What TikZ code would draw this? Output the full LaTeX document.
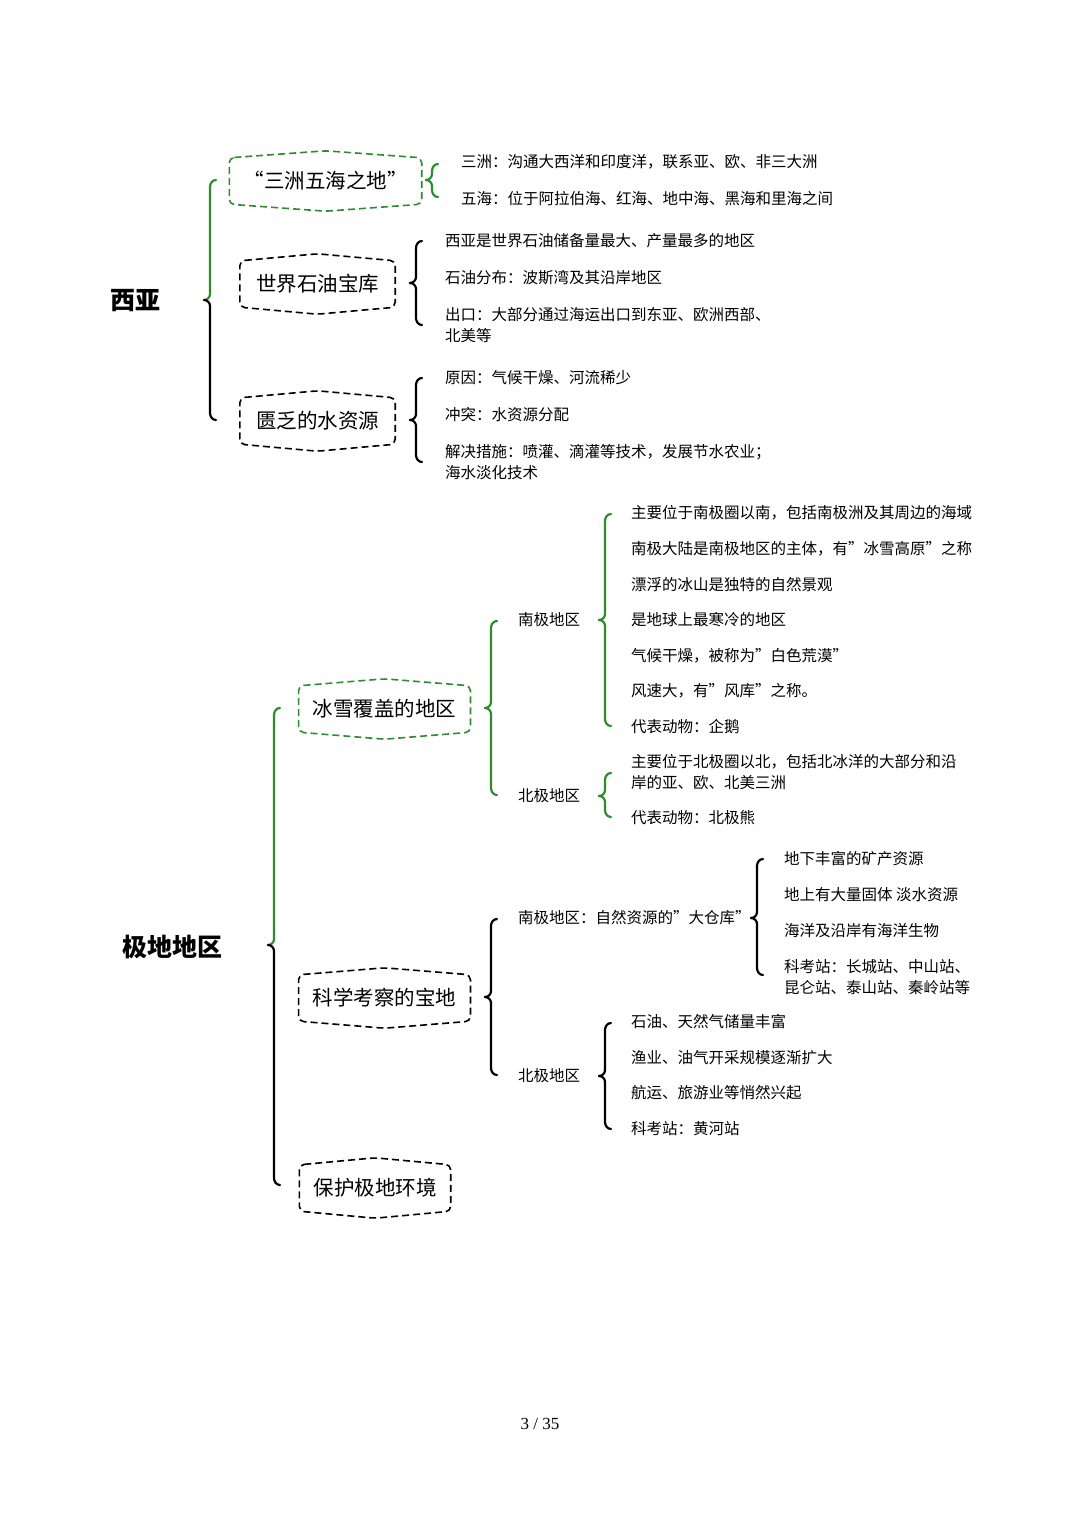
\documentclass[tikz,border=0pt]{standalone}
\usepackage{fontspec}
\setmainfont{Noto Sans CJK SC}
\newfontfamily\pagefont{Liberation Serif}
\definecolor{gr}{HTML}{2E8B2E}
\newcommand\brc[6]{%
 \draw[#5,line width=2.2,line cap=round] ({#1+6},#2) to[out=180,in=90] (#1,{#2+7}) -- (#1,{#3-6}) to[out=-90,in=0] ({#1-6},#3);
 \draw[#6,line width=2.2,line cap=round] ({#1-6},#3) to[out=0,in=90] (#1,{#3+6}) -- (#1,{#4-7}) to[out=-90,in=180] ({#1+6},#4);}
\newcommand\hexb[2]{%
 \draw[#2,dashed,line width=1.6,dash pattern=on 7pt off 4pt,rounded corners=5pt]
 (#1.north west) -- ([yshift=7pt]#1.north) -- (#1.north east) -- (#1.south east) -- ([yshift=-7pt]#1.south) -- (#1.south west) -- cycle;}
\begin{document}
\begin{tikzpicture}[x=1pt,y=-1pt,
 txt/.style={anchor=west,align=left,font=\fontsize{15.5}{21}\selectfont,inner sep=0},
 boxt/.style={font=\fontsize{20.5}{24}\selectfont,minimum height=46,inner xsep=14},
 ttl/.style={font=\fontsize{25}{30}\selectfont\bfseries}]
\useasboundingbox (0,0) rectangle (1080,1527);
\fill[white] (0,0) rectangle (1080,1527);
% titles
\node[ttl] (xy) at (135,301) {西亚};
\node[ttl] (jd) at (172,947) {极地地区};
% boxes
\node[boxt,minimum width=171] (b1) at (325.5,181) {“三洲五海之地”}; \hexb{b1}{gr}
\node[boxt,minimum width=155] (b2) at (317.5,284) {世界石油宝库}; \hexb{b2}{black}
\node[boxt,minimum width=155] (b3) at (317.5,421) {匮乏的水资源}; \hexb{b3}{black}
\node[boxt,minimum width=169] (b4) at (384.5,709) {冰雪覆盖的地区}; \hexb{b4}{gr}
\node[boxt,minimum width=169] (b5) at (384.5,998) {科学考察的宝地}; \hexb{b5}{black}
\node[boxt,minimum width=150] (b6) at (375,1188) {保护极地环境}; \hexb{b6}{black}
% main braces
\brc{210}{180}{300}{420}{gr}{black}
\brc{274}{708}{945}{1185}{gr}{black}
% 西亚 details
\brc{432}{164}{180}{197}{gr}{gr}
\node[txt] (t1) at (461,162) {三洲：沟通大西洋和印度洋，联系亚、欧、非三大洲};
\node[txt] (t2) at (461,199) {五海：位于阿拉伯海、红海、地中海、黑海和里海之间};
\brc{416}{241}{283}{325}{black}{black}
\node[txt] (t3) at (445,241) {西亚是世界石油储备量最大、产量最多的地区};
\node[txt] (t4) at (445,278) {石油分布：波斯湾及其沿岸地区};
\node[txt] (t5) at (445,325) {出口：大部分通过海运出口到东亚、欧洲西部、\\北美等};
\brc{416}{378}{420}{462}{black}{black}
\node[txt] (t6) at (445,378) {原因：气候干燥、河流稀少};
\node[txt] (t7) at (445,415) {冲突：水资源分配};
\node[txt] (t8) at (445,462) {解决措施：喷灌、滴灌等技术，发展节水农业；\\海水淡化技术};
% 冰雪
\brc{491}{621}{708}{795}{gr}{gr}
\node[txt] (n1) at (518,620) {南极地区};
\node[txt] (n2) at (518,796) {北极地区};
\brc{605}{514}{620}{726}{gr}{gr}
\node[txt] (a1) at (631,513) {主要位于南极圈以南，包括南极洲及其周边的海域};
\node[txt] (a2) at (631,549) {南极大陆是南极地区的主体，有"冰雪高原"之称};
\node[txt] (a3) at (631,585) {漂浮的冰山是独特的自然景观};
\node[txt] (a4) at (631,620) {是地球上最寒冷的地区};
\node[txt] (a5) at (631,656) {气候干燥，被称为"白色荒漠"};
\node[txt] (a6) at (631,691) {风速大，有"风库"之称。};
\node[txt] (a7) at (631,727) {代表动物：企鹅};
\brc{605}{773}{796}{817}{gr}{gr}
\node[txt] (c1) at (631,772) {主要位于北极圈以北，包括北冰洋的大部分和沿\\岸的亚、欧、北美三洲};
\node[txt] (c2) at (631,818) {代表动物：北极熊};
% 科学
\brc{491}{919}{997}{1075}{black}{black}
\node[txt] (n3) at (518,918) {南极地区：自然资源的"大仓库"};
\node[txt] (n4) at (518,1076) {北极地区};
\brc{757}{859}{918}{975}{black}{black}
\node[txt] (d1) at (784,859) {地下丰富的矿产资源};
\node[txt] (d2) at (784,895) {地上有大量固体 淡水资源};
\node[txt] (d3) at (784,931) {海洋及沿岸有海洋生物};
\node[txt] (d4) at (784,977) {科考站：长城站、中山站、\\昆仑站、泰山站、秦岭站等};
\brc{605}{1023}{1076}{1129}{black}{black}
\node[txt] (e1) at (631,1022) {石油、天然气储量丰富};
\node[txt] (e2) at (631,1058) {渔业、油气开采规模逐渐扩大};
\node[txt] (e3) at (631,1093) {航运、旅游业等悄然兴起};
\node[txt] (e4) at (631,1129) {科考站：黄河站};
\node[font=\pagefont\fontsize{17}{20}\selectfont] (pg) at (540,1424) {3 / 35};
\end{tikzpicture}
\end{document}
